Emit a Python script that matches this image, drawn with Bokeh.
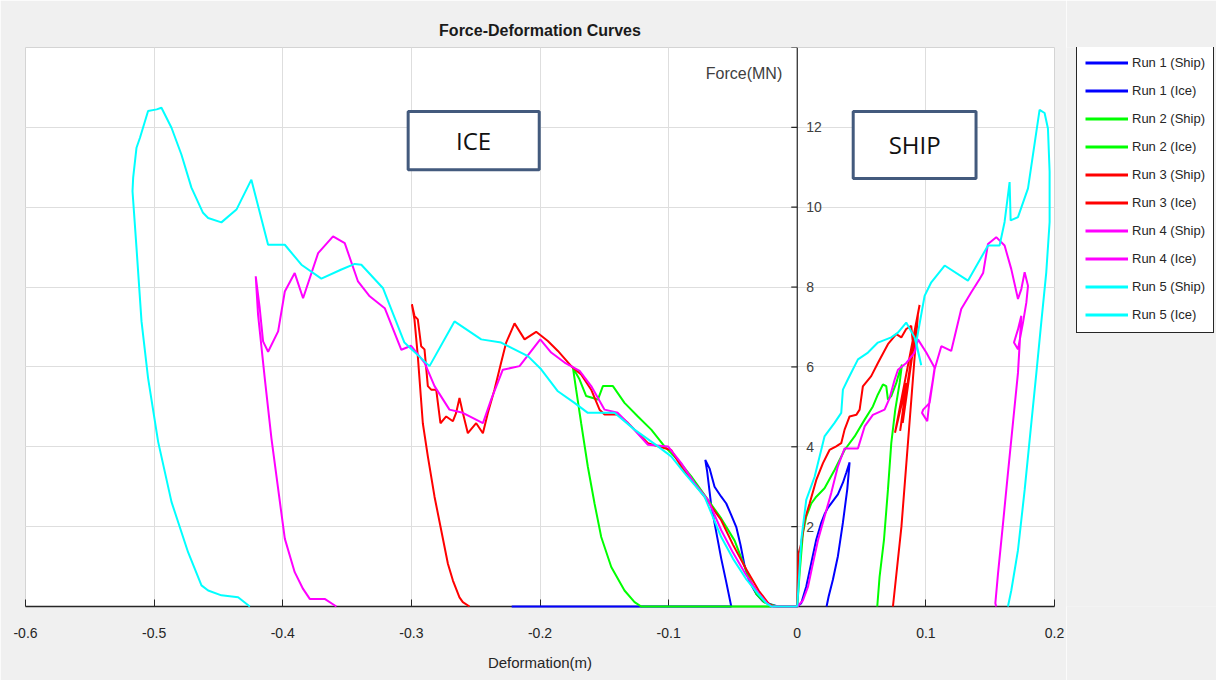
import math
from bokeh.plotting import figure
from bokeh.layouts import row
from bokeh.models import (Range1d, FixedTicker, Grid, Legend, LegendItem,
                          Label, BoxAnnotation, Span)
from bokeh.core.properties import value
from bokeh.embed import file_html
from bokeh.resources import INLINE

# ---------------- data ----------------
x_ticks = [-0.6, -0.5, -0.4, -0.3, -0.2, -0.1, 0.0, 0.1, 0.2]
x_tick_labels = ["-0.6", "-0.5", "-0.4", "-0.3", "-0.2", "-0.1", "0", "0.1", "0.2"]
y_ticks = [0, 2, 4, 6, 8, 10, 12, 14]
y_label_ticks = [2, 4, 6, 8, 10, 12]
y_tick_labels = ["2", "4", "6", "8", "10", "12"]

labels = ["Run 1 (Ship)", "Run 1 (Ice)", "Run 2 (Ship)", "Run 2 (Ice)", "Run 3 (Ship)",
          "Run 3 (Ice)", "Run 4 (Ship)", "Run 4 (Ice)", "Run 5 (Ship)", "Run 5 (Ice)"]
colors = ["#0000ff", "#0000ff", "#00ff00", "#00ff00", "#ff0000",
          "#ff0000", "#ff00ff", "#ff00ff", "#00ffff", "#00ffff"]

run1_ship_x = [0, 0.0031, 0.007, 0.0109, 0.0148, 0.0187, 0.0212, 0.0238, 0.0277, 0.0316, 0.0355,
               0.0381, 0.0407, 0.0389, 0.0355, 0.0316, 0.0277, 0.0244, 0.0228]
run1_ship_y = [0, 0.08, 0.50, 1.09, 1.68, 2.10, 2.31, 2.47, 2.64, 2.81, 3.10,
               3.35, 3.61, 2.94, 2.10, 1.26, 0.67, 0.25, 0]

run1_ice_x = [0, -0.015, -0.0202, -0.0267, -0.0319, -0.0371, -0.041, -0.0441, -0.0474, -0.0513,
              -0.0552, -0.0591, -0.0643, -0.0682, -0.0715, -0.07, -0.0669, -0.063, -0.0591,
              -0.0552, -0.0513, -0.222]
run1_ice_y = [0, 0, 0.05, 0.13, 0.32, 0.62, 1.03, 1.54, 1.99, 2.29,
              2.58, 2.75, 3.00, 3.46, 3.67, 3.37, 2.54, 1.87, 1.20,
              0.61, 0, 0]

run2_ship_x = [0, 0.0018, 0.0044, 0.007, 0.0109, 0.0148, 0.0212, 0.029, 0.0368, 0.0446, 0.0524,
               0.0588, 0.0627, 0.0666, 0.0692, 0.0705, 0.0731, 0.077, 0.0796, 0.0814, 0.0796,
               0.0762, 0.0731, 0.0705, 0.0674, 0.064, 0.0622]
run2_ship_y = [0, 0.82, 1.83, 2.25, 2.58, 2.75, 2.96, 3.42, 3.92, 4.26, 4.68,
               5.01, 5.31, 5.56, 5.52, 5.18, 5.27, 5.60, 5.89, 6.06, 5.60,
               4.93, 4.09, 2.92, 1.66, 0.74, 0]

run2_ice_x = [0, -0.016, -0.0254, -0.0319, -0.0397, -0.0487, -0.059, -0.0694, -0.0824, -0.0928,
              -0.1032, -0.1135, -0.1239, -0.1343, -0.1433, -0.1511, -0.155, -0.1589, -0.1641,
              -0.1693, -0.1744, -0.1719, -0.168, -0.1628, -0.1576, -0.1524, -0.1446, -0.1343,
              -0.1265, -0.1213, -0.02]
run2_ice_y = [0, 0, 0.10, 0.32, 0.90, 1.65, 2.20, 2.67, 3.26, 3.67,
              4.01, 4.43, 4.76, 5.10, 5.52, 5.52, 5.18, 5.22, 5.27,
              5.69, 5.98, 5.43, 4.59, 3.50, 2.58, 1.74, 0.99, 0.40,
              0.11, 0, 0]

run3_ship_x = [0, 0.001, 0.0031, 0.0057, 0.0096, 0.0148, 0.02, 0.0251, 0.0303, 0.0342, 0.0368,
               0.0407, 0.0459, 0.0485, 0.051, 0.0575, 0.0627, 0.0705, 0.077, 0.0809, 0.0847,
               0.0886, 0.0899, 0.0951, 0.076, 0.085, 0.08, 0.093, 0.082, 0.0938, 0.081, 0.0744]
run3_ship_y = [0, 1.33, 1.58, 2.16, 2.58, 3.17, 3.59, 3.92, 4.01, 4.09, 4.43,
               4.76, 4.80, 4.93, 5.51, 5.77, 6.10, 6.57, 6.82, 6.74, 6.95,
               7.03, 6.61, 7.55, 4.35, 5.60, 4.40, 7.10, 4.60, 7.30, 2.00, 0]

run3_ice_x = [0, -0.018, -0.022, -0.03, -0.04, -0.05, -0.0591, -0.0721, -0.0824, -0.0902, -0.098,
              -0.1083, -0.1161, -0.1265, -0.1317, -0.1395, -0.1498, -0.1537, -0.1602, -0.168,
              -0.1757, -0.1861, -0.1939, -0.203, -0.212, -0.2198, -0.2263, -0.2302, -0.2354,
              -0.2405, -0.2444, -0.2496, -0.2561, -0.26, -0.2626, -0.2652, -0.2677, -0.2729,
              -0.2774, -0.2807, -0.2846, -0.2872, -0.2898, -0.2924, -0.295, -0.2976, -0.2996,
              -0.2976, -0.295, -0.2911, -0.2872, -0.282, -0.2768, -0.2716, -0.2677, -0.2626,
              -0.26, -0.2548]
run3_ice_y = [0, 0, 0.06, 0.40, 0.95, 1.55, 2.16, 2.75, 3.17, 3.50, 3.92,
              4.01, 4.09, 4.43, 4.60, 4.81, 4.81, 4.93, 5.43, 5.81,
              6.02, 6.40, 6.65, 6.88, 6.69, 7.09, 6.61, 6.11, 5.43,
              4.85, 4.34, 4.59, 4.34, 4.85, 5.22, 4.85, 4.64, 4.76,
              4.59, 5.43, 5.43, 5.52, 6.44, 6.52, 7.19, 7.28, 7.57,
              7.19, 6.27, 4.59, 3.76, 2.75, 1.91, 1.07, 0.65, 0.23,
              0.11, 0]

run4_ship_x = [0, 0.0044, 0.0083, 0.0122, 0.0161, 0.0212, 0.0264, 0.0316, 0.0368, 0.0472, 0.0524,
               0.0588, 0.0679, 0.0718, 0.0757, 0.0783, 0.0848, 0.0912, 0.0938, 0.1003, 0.1068,
               0.1055, 0.1029, 0.1011, 0.097, 0.0979, 0.1029, 0.1068, 0.112, 0.1197, 0.1275,
               0.1353, 0.1418, 0.1445, 0.1483, 0.1547, 0.1612, 0.1664, 0.1716, 0.1742, 0.1768,
               0.1794, 0.1781, 0.1755, 0.1716, 0.1685, 0.1716, 0.1742, 0.1716, 0.1677, 0.1638,
               0.16, 0.1561, 0.154, 0.1547]
run4_ship_y = [0, 0.15, 0.49, 1.08, 1.66, 2.25, 2.84, 3.51, 3.96, 3.96, 4.51,
               4.80, 4.93, 5.22, 5.68, 5.93, 6.10, 6.36, 6.69, 6.36, 5.98,
               5.69, 5.18, 4.64, 4.85, 4.93, 5.10, 5.94, 6.52, 6.40, 7.45,
               7.87, 8.20, 8.35, 9.08, 9.25, 9.04, 8.45, 7.70, 7.95, 8.37,
               8.03, 7.61, 7.11, 6.44, 6.61, 6.94, 7.28, 5.85, 4.60, 3.34,
               2.09, 0.83, 0.08, 0]

run4_ice_x = [0, -0.02, -0.024, -0.03, -0.04, -0.05, -0.0591, -0.0694, -0.0799, -0.0902, -0.1005,
              -0.1161, -0.1291, -0.1395, -0.1498, -0.1602, -0.1692, -0.1809, -0.1913, -0.1998,
              -0.2159, -0.2289, -0.238, -0.2444, -0.26, -0.2704, -0.282, -0.2898, -0.3002,
              -0.3078, -0.3207, -0.3324, -0.3415, -0.3518, -0.3609, -0.3725, -0.3842, -0.3907,
              -0.3984, -0.4036, -0.4114, -0.4153, -0.4179, -0.421, -0.4192, -0.414, -0.4088,
              -0.4036, -0.3984, -0.3907, -0.3842, -0.379, -0.3674, -0.3583]
run4_ice_y = [0, 0, 0.10, 0.33, 0.80, 1.35, 1.91, 2.67, 3.09, 3.59, 4.01,
              4.05, 4.51, 4.85, 4.93, 5.52, 5.90, 6.11, 6.36, 6.69,
              6.02, 5.93, 5.18, 4.59, 4.85, 4.93, 5.52, 6.11, 6.53,
              6.43, 7.47, 7.77, 8.14, 9.10, 9.27, 8.85, 7.72, 8.35,
              7.89, 6.89, 6.38, 6.64, 7.47, 8.27, 7.31, 5.72, 4.21,
              2.95, 1.70, 0.86, 0.44, 0.19, 0.19, 0]

run5_ship_x = [0, 0.0031, 0.007, 0.0135, 0.0212, 0.029, 0.0342, 0.0355, 0.0394, 0.0472, 0.055,
               0.0627, 0.0731, 0.0783, 0.0847, 0.0912, 0.0964, 0.0925, 0.099, 0.1042, 0.1146,
               0.1327, 0.1483, 0.1573, 0.1612, 0.1651, 0.1659, 0.1716, 0.1794, 0.1884, 0.1923,
               0.1949, 0.1962, 0.1962, 0.1936, 0.1897, 0.1859, 0.182, 0.1768, 0.1716, 0.1664,
               0.1638]
run5_ship_y = [0, 1.66, 2.67, 3.25, 4.26, 4.60, 4.85, 5.43, 5.69, 6.19, 6.36,
               6.61, 6.74, 6.86, 7.11, 6.74, 6.04, 6.61, 7.78, 8.12, 8.54,
               8.16, 9.04, 9.04, 9.63, 10.63, 9.67, 9.75, 10.47, 12.44, 12.36,
               11.97, 10.89, 9.63, 8.37, 7.11, 5.85, 4.60, 2.92, 1.41, 0.40,
               0]

run5_ice_x = [0, -0.02, -0.024, -0.03, -0.04, -0.05, -0.0591, -0.0721, -0.0876, -0.098, -0.1083,
              -0.1265, -0.1421, -0.1628, -0.1732, -0.1861, -0.1991, -0.2094, -0.2302, -0.2457,
              -0.2665, -0.2859, -0.3054, -0.322, -0.3389, -0.344, -0.3544, -0.37, -0.3855,
              -0.3984, -0.4114, -0.4244, -0.436, -0.4477, -0.458, -0.462, -0.471, -0.4788,
              -0.4865, -0.4943, -0.498, -0.5047, -0.511, -0.5137, -0.5163, -0.5168, -0.5137,
              -0.5098, -0.5047, -0.4969, -0.4865, -0.4736, -0.4632, -0.458, -0.4477, -0.4347,
              -0.4256]
run5_ice_y = [0, 0, 0.08, 0.30, 0.70, 1.20, 1.74, 2.75, 3.34, 3.76, 4.01,
              4.43, 4.85, 4.85, 5.10, 5.39, 5.94, 6.27, 6.61, 6.69,
              7.14, 6.02, 6.61, 7.97, 8.56, 8.58, 8.44, 8.21, 8.56,
              9.06, 9.06, 10.69, 9.94, 9.62, 9.73, 9.86, 10.49, 11.32,
              11.99, 12.49, 12.45, 12.41, 11.74, 11.49, 10.74, 10.40, 8.98,
              7.14, 5.72, 4.13, 2.62, 1.36, 0.53, 0.40, 0.28, 0.23,
              0]

series_x = [run1_ship_x, run1_ice_x, run2_ship_x, run2_ice_x, run3_ship_x,
            run3_ice_x, run4_ship_x, run4_ice_x, run5_ship_x, run5_ice_x]
series_y = [run1_ship_y, run1_ice_y, run2_ship_y, run2_ice_y, run3_ship_y,
            run3_ice_y, run4_ship_y, run4_ice_y, run5_ship_y, run5_ice_y]

# ---------------- main figure ----------------
FONT = "Liberation Sans"
TXT = "#262626"
BG = "#f0f0f0"

p = figure(frame_width=1029, frame_height=559,
           x_range=Range1d(-0.6, 0.2), y_range=Range1d(0, 14),
           output_backend="svg", toolbar_location=None, y_axis_location=None,
           min_border_left=25, min_border_top=47, min_border_bottom=74, min_border_right=12,
           background_fill_color="white", border_fill_color=BG,
           outline_line_color="#d4d4d4")

p.title.text = "Force-Deformation Curves"
p.title.align = "center"
p.title.text_font = FONT
p.title.text_font_size = "16px"
p.title.text_font_style = "bold"
p.title.text_color = "#1a1a1a"
p.title.standoff = 18

# x axis
p.xaxis.ticker = FixedTicker(ticks=x_ticks)
p.xaxis.major_label_overrides = {t: s for t, s in zip(x_ticks, x_tick_labels)}
p.xaxis.axis_line_color = TXT
p.xaxis.axis_line_width = 1.5
p.xaxis.major_tick_in = 7
p.xaxis.major_tick_out = 0
p.xaxis.major_tick_line_color = TXT
p.xaxis.minor_tick_line_color = None
p.xaxis.major_label_text_font = FONT
p.xaxis.major_label_text_font_size = "14px"
p.xaxis.major_label_text_color = TXT
p.xaxis.major_label_standoff = 21
p.xaxis.axis_label = "Deformation(m)"
p.xaxis.axis_label_text_font = FONT
p.xaxis.axis_label_text_font_style = "normal"
p.xaxis.axis_label_text_font_size = "15px"
p.xaxis.axis_label_text_color = TXT
p.xaxis.axis_label_standoff = 13

p.xgrid.grid_line_color = "#dedede"
p.xgrid.grid_line_width = 1
p.add_layout(Grid(dimension=1, ticker=FixedTicker(ticks=y_ticks),
                  grid_line_color="#dedede", grid_line_width=1))

# vertical force axis drawn at x = 0 (line, inward ticks, labels to the right)
p.add_layout(Span(location=0, dimension="height", line_color=TXT, line_width=1.2))
p.ray(x=[0] * len(y_ticks), y=y_ticks, length=6, length_units="screen", angle=math.pi,
      line_color=TXT, line_width=1.2)
p.text(x=[0] * len(y_label_ticks), y=y_label_ticks, text=y_tick_labels, x_offset=9,
       text_align="left", text_baseline="middle", text_font=value(FONT),
       text_font_size="14px", text_color="#404040")

# curves (drawn above the axis line, as in the original)
for xs, ys, col in zip(series_x, series_y, colors):
    p.line(xs, ys, line_color=col, line_width=2, level="overlay")

# annotations
p.add_layout(Label(x=0, y=14, x_offset=-15, y_offset=-26, text="Force(MN)",
                   text_align="right", text_baseline="middle", text_font=FONT,
                   text_font_size="16px", text_color="#404040"))

BOX = "#435a7d"
p.add_layout(BoxAnnotation(left=-0.3025, right=-0.2006, bottom=10.94, top=12.40,
                           fill_color="white", fill_alpha=1, line_color=BOX,
                           line_alpha=1, line_width=3))
p.add_layout(Label(x=-0.2516, y=11.67, text="ICE", text_align="center",
                   text_baseline="middle", text_font="Open Sans", text_font_size="24px",
                   text_color="#111111"))
p.add_layout(BoxAnnotation(left=0.0435, right=0.139, bottom=10.72, top=12.40,
                           fill_color="white", fill_alpha=1, line_color=BOX,
                           line_alpha=1, line_width=3))
p.add_layout(Label(x=0.0913, y=11.56, text="SHIP", text_align="center",
                   text_baseline="middle", text_font="Open Sans", text_font_size="24px",
                   text_color="#111111"))

# ---------------- legend panel (separate small figure to the right) ----------------
lg = figure(width=150, height=680, x_range=Range1d(0, 1), y_range=Range1d(0, 1),
            output_backend="svg", toolbar_location=None, title=None,
            x_axis_location=None, y_axis_location=None,
            min_border_left=0, min_border_right=0, min_border_top=0, min_border_bottom=0,
            background_fill_color=BG, border_fill_color=BG, outline_line_color=None)
lg.xgrid.visible = False
lg.ygrid.visible = False
items = []
for lab, col in zip(labels, colors):
    # legend swatch renderers; their points lie outside the visible range
    r = lg.line([-2, -1], [-2, -1], line_color=col, line_width=3)
    items.append(LegendItem(label=lab, renderers=[r]))

legend = Legend(items=items, location=(10, 273), margin=0, padding=8,
                spacing=9, glyph_width=43, glyph_height=19, label_height=19,
                label_standoff=4, label_text_font=FONT, label_text_font_size="13px",
                label_text_color=TXT, border_line_color=TXT, border_line_width=1,
                border_line_alpha=1, background_fill_color="white", background_fill_alpha=1)
lg.add_layout(legend)

layout = row(p, lg, spacing=0)
open("out.html", "w").write(file_html(layout, INLINE))
